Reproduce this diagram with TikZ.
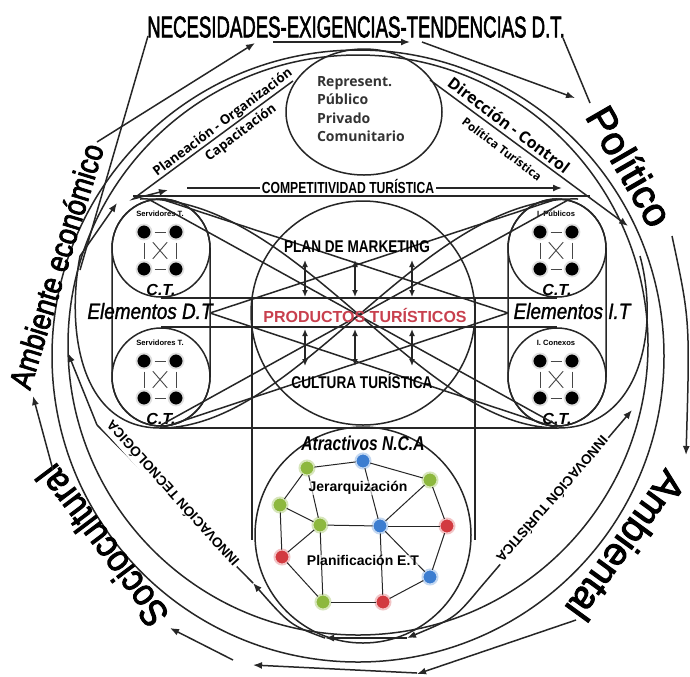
\documentclass[tikz,border=0pt]{standalone}
\usepackage{fontspec}
\usepackage{graphicx}
\setmainfont{Liberation Sans}
\newfontfamily\osans{Open Sans}
\newfontfamily\bigf[FakeBold=2.5]{Liberation Sans}
\newfontfamily\midf[FakeBold=1.5]{Liberation Sans}
\usetikzlibrary{arrows.meta,calc,shapes.geometric}
\definecolor{lc}{HTML}{262626}
\definecolor{gdot}{HTML}{8DB83E}
\definecolor{bdot}{HTML}{3C7DD0}
\definecolor{rdot}{HTML}{D23A40}
\definecolor{ptred}{HTML}{C8404E}
\tikzset{
  every node/.style={inner sep=0pt, outer sep=0pt},
  ln/.style={draw=lc, line width=0.75pt},
  thn/.style={draw=lc!85, line width=0.45pt, shorten >=1.5pt, shorten <=1.5pt},
  arr/.style={ln, -{Latex[length=4.5pt,width=3.5pt]}},
  darr/.style={ln, {Latex[length=3.5pt,width=3pt]}-{Latex[length=3.5pt,width=3pt]}},
  ctcirc/.style={circle, draw=lc, line width=0.75pt, minimum size=49pt},
  kdot/.style={circle, fill=black, draw=black!12, line width=0.9pt, minimum size=7.5pt},
  gn/.style={circle, fill=gdot, draw=gdot!35, line width=1pt, minimum size=7.5pt},
  bn/.style={circle, fill=bdot, draw=bdot!30, line width=1pt, minimum size=7.5pt},
  rn/.style={circle, fill=rdot, draw=rdot!30, line width=1pt, minimum size=7.5pt},
  tiny/.style={font=\bfseries\fontsize{3.8}{4}\selectfont},
  ctl/.style={font=\bfseries\itshape\fontsize{8}{8}\selectfont},
}
\newcommand{\CTC}[4]{%
  \node[ctcirc] (#1) at (#2,#3) {};
  \node[tiny] (#1l) at ($(#1)+(-1,-34)$) {#4};
  \node[kdot] (#1a) at ($(#1)+(-17,-16)$) {};
  \node[kdot] (#1b) at ($(#1)+(15,-16)$) {};
  \node[kdot] (#1c) at ($(#1)+(-17,21)$) {};
  \node[kdot] (#1d) at ($(#1)+(15,21)$) {};
  \draw[thn] (#1a) -- (#1b);
  \draw[thn] (#1c) -- (#1d);
  \draw[thn] (#1a) -- (#1c);
  \draw[thn] (#1b) -- (#1d);
  \draw[thn, shorten >=3pt, shorten <=3pt] (#1a) -- (#1d);
  \draw[thn, shorten >=3pt, shorten <=3pt] (#1b) -- (#1c);
  \node[ctl] (#1ct) at ($(#1)+(0,42)$) {C.T.};
}
\begin{document}
\begin{tikzpicture}[x=0.5pt,y=-0.5pt]
\fill[white] (0,0) rectangle (690,676);
\useasboundingbox (0,0) rectangle (690,676);

% big circles
\draw[ln] (358,356) circle[radius=306];
\draw[ln] (358,345) circle[radius=290];

% top ellipse
\node[draw=lc, line width=0.75pt, ellipse, minimum width=78pt, minimum height=63pt] (rep) at (364,112) {};
\node[anchor=west, align=left, text=black!80, font=\osans\bfseries\fontsize{7}{9.25}\selectfont] (reptxt) at (317,109) {Represent.\\Público\\Privado\\Comunitario};

% outer cycle texts
\node (nec) at (356,27) {\bigf\fontsize{15}{15}\selectfont\scalebox{0.62}[1]{NECESIDADES-EXIGENCIAS-TENDENCIAS D.T.}};
\node[rotate=-60] (pol) at (630,166) {\bigf\fontsize{20}{20}\selectfont Político};
\node[rotate=-126] (amb) at (626,546) {\bigf\fontsize{19.5}{20}\selectfont Ambiental};
\node[rotate=127] (soc) at (102,546) {\bigf\fontsize{19}{19}\selectfont\scalebox{0.88}[1]{Sociocultural}};
\node[rotate=73] (eco) at (56,266) {\bigf\fontsize{16}{16}\selectfont\scalebox{0.85}[1]{Ambiente económico}};

% outer cycle arrows
\coordinate (e1) at (97,142); \coordinate (e2) at (255,43);
\draw[arr] (e1) -- (e2);
\coordinate (x1) at (273,42); \coordinate (x2) at (410,42);
\draw[arr] (x1) -- (x2);
\coordinate (t1) at (422,42); \coordinate (t2) at (575,98);
\draw[arr] (t1) -- (t2);
\coordinate (d1) at (563,38); \coordinate (d2) at (590,103);
\draw[ln] (d1) -- (d2);
\coordinate (p1) at (672,236); \coordinate (p2) at (686,455);
\draw[arr] (p1) .. controls (690,320) .. (p2);
\coordinate (a1) at (576,620); \coordinate (a2) at (417,674);
\draw[arr] (a1) -- (a2);
\coordinate (b1) at (417,673); \coordinate (b2) at (253,665);
\draw[arr] (b1) -- (b2);
\coordinate (s1) at (233,660); \coordinate (s2) at (170,628);
\draw[arr] (s1) -- (s2);
\coordinate (c1) at (53,470); \coordinate (c2) at (33,396);
\draw[arr] (c1) -- (c2);
\coordinate (n1) at (148,36); \coordinate (n2) at (80,270);
\draw[ln] (n1) -- (n2);

% diagonal process lines
\coordinate (pl1) at (293,81); \coordinate (pl2) at (133,199); \coordinate (pl3) at (168,190);
\draw[arr] (pl1) -- (pl2) -- (pl3);
\coordinate (ar1) at (80,256); \coordinate (ar2) at (117,203);
\draw[arr] (ar1) -- (ar2);
\coordinate (dc1) at (430,80); \coordinate (dc2) at (628,226);
\draw[arr] (dc1) -- (dc2);
\node[rotate=37, font=\osans\bfseries\fontsize{6.6}{7}\selectfont] (plo) at (223,123) {Planeación - Organización};
\node[rotate=37, font=\osans\bfseries\fontsize{6.6}{7}\selectfont] (cap) at (241,133) {Capacitación};
\node[rotate=-37, font=\osans\bfseries\fontsize{8}{8}\selectfont] (dir) at (509,125) {Dirección - Control};
\node[rotate=-37, font=\osans\bfseries\fontsize{5.8}{6}\selectfont] (polt) at (502,149) {Política Turística};

% competitividad
\coordinate (cp1) at (187,188); \coordinate (cp2) at (562,188);
\draw[arr] (cp1) -- (cp2);
\node[fill=white, inner sep=1pt, font=\bfseries\fontsize{8}{8}\selectfont] (comp) at (348,186) {\scalebox{0.76}[1]{COMPETITIVIDAD TURÍSTICA}};
\coordinate (h1a) at (133,196); \coordinate (h1b) at (590,196);
\draw[ln] (h1a) -- (h1b);

% stadia
\draw[ln, rounded corners=24.5pt] (112,199) rectangle (210,426);
\draw[ln, rounded corners=24.5pt] (508,199) rectangle (606,426);
\CTC{dt1}{161}{248}{Servidores T.}
\CTC{dt2}{161}{377}{Servidores T.}
\CTC{it1}{557}{248}{I. Públicos}
\CTC{it2}{557}{377}{I. Conexos}

% grid lines
\draw[ln] (161,298) -- (557,298);
\draw[ln] (161,327) -- (557,327);
\draw[ln] (160,428) -- (557,428);
\draw[ln] (252,298) -- (252,540);
\draw[ln] (475,298) -- (475,540);

% crossing lines
\draw[ln] (150,200) -- (557,425);
\draw[ln] (568,200) -- (161,425);
\draw[ln] (210,313) -- (557,199);
\draw[ln] (210,313) -- (557,428);
\draw[ln] (508,313) -- (161,199);
\draw[ln] (508,313) -- (161,428);
\draw[ln] (578,199) .. controls (420,195) and (300,428) .. (160,428) .. controls (80,428) and (66,330) .. (80,256);
\draw[ln] (140,199) .. controls (298,195) and (418,428) .. (558,428) .. controls (640,428) and (660,330) .. (640,256);

% elementos labels
\node[font=\midf\itshape\fontsize{11}{11}\selectfont] (edt) at (150,311) {\scalebox{0.86}[1]{Elementos D.T}};
\node[font=\midf\itshape\fontsize{11}{11}\selectfont] (eit) at (572,311) {\scalebox{0.86}[1]{Elementos I.T}};

% central circle
\draw[ln] (363,313) circle[radius=112];
\node[font=\bfseries\fontsize{8.5}{8.5}\selectfont] (plan) at (357,247) {\scalebox{0.8}[1]{PLAN DE MARKETING}};
\node[text=ptred, font=\bfseries\fontsize{8}{8}\selectfont] (prod) at (365,315) {PRODUCTOS TURÍSTICOS};
\node[font=\bfseries\fontsize{8.5}{8.5}\selectfont] (cult) at (362,381) {\scalebox{0.8}[1]{CULTURA TURÍSTICA}};
\foreach \xx/\nm in {305/u1,355/u2,412/u3}{
  \coordinate (\nm a) at (\xx,260); \coordinate (\nm b) at (\xx,297);
  \draw[darr] (\nm a) -- (\nm b);
  \coordinate (\nm c) at (\xx,329); \coordinate (\nm d) at (\xx,366);
  \draw[darr] (\nm c) -- (\nm d);
}

% bottom circle
\draw[ln] (363,535) circle[radius=108];
\node[font=\bfseries\itshape\fontsize{10}{10}\selectfont] (atr) at (363,443) {\scalebox{0.78}[1]{Atractivos N.C.A}};
\node[gn] (m1) at (307,468) {};
\node[bn] (m2) at (363,461) {};
\node[gn] (m3) at (430,480) {};
\node[gn] (m4) at (280,505) {};
\node[gn] (m5) at (320,525) {};
\node[bn] (m6) at (380,526) {};
\node[rn] (m7) at (447,526) {};
\node[rn] (m8) at (282,557) {};
\node[bn] (m9) at (430,577) {};
\node[gn] (m10) at (323,602) {};
\node[rn] (m11) at (383,602) {};
\foreach \a/\b in {m1/m2,m2/m3,m1/m4,m1/m5,m2/m6,m3/m7,m3/m6,m4/m5,m4/m8,m5/m6,m6/m7,m5/m8,m5/m10,m6/m11,m6/m9,m7/m9,m8/m10,m10/m11,m11/m9}
  \draw[draw=lc, line width=0.5pt] (\a) -- (\b);
\node[fill=white, fill opacity=0.6, text opacity=1, font=\bfseries\fontsize{7}{7}\selectfont] (jer) at (358,488) {Jerarquización};
\node[fill=white, fill opacity=0.6, text opacity=1, font=\bfseries\fontsize{7}{7}\selectfont] (pla) at (363,560) {Planificación E.T};

% innovation lines
\coordinate (iv1) at (407,638); \coordinate (iv2) at (325,638);
\draw[arr] (iv1) -- (iv2);
\coordinate (it0) at (632,410); \coordinate (it3) at (480,588);
\draw[ln, {Latex[length=4.5pt,width=3.5pt]}-{Latex[length=4.5pt,width=3.5pt]}] (it0) -- (it3) .. controls (455,618) .. (iv1);
\coordinate (ic3) at (253,583); \coordinate (ic4) at (97,425); \coordinate (ic5) at (68,353);
\draw[arr] (iv2) .. controls (290,625) .. (ic3);
\draw[ln] (253,583) -- (ic4);
\draw[arr] (ic4) -- (ic5);
\node[fill=white, inner sep=1pt, rotate=132, font=\bfseries\fontsize{6.8}{7}\selectfont] (itec) at (172,494) {INNOVACIÓN TECNOLÓGICA};
\node[fill=white, inner sep=1pt, rotate=-131, font=\bfseries\fontsize{6.8}{7}\selectfont] (itur) at (553,500) {INNOVACIÓN TURÍSTICA};
\end{tikzpicture}
\end{document}
